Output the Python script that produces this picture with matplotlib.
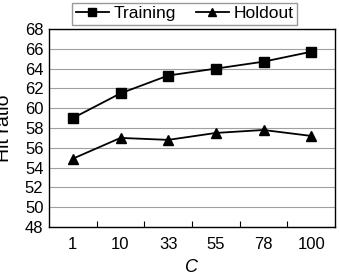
import numpy as np
import matplotlib.pyplot as plt

# data
c_labels = ['1', '10', '33', '55', '78', '100']
training = [59.0, 61.5, 63.3, 64.0, 64.7, 65.7]
holdout = [54.9, 57.0, 56.8, 57.5, 57.8, 57.2]

plt.rcParams['font.family'] = ['Liberation Sans', 'DejaVu Sans']

fig = plt.figure(figsize=(3.39, 2.77), dpi=100)
ax = fig.add_axes([49 / 339, 1 - 227 / 277, 286 / 339, 198 / 277])

x = np.arange(len(c_labels))
ax.plot(x, training, color='black', lw=1.3, marker='s', ms=6.5, label='Training')
ax.plot(x, holdout, color='black', lw=1.3, marker='^', ms=7, label='Holdout')

ax.set_xlim(-0.5, len(c_labels) - 0.5)
ax.set_ylim(48, 68)
ax.set_yticks(np.arange(48, 69, 2))
ax.set_xticks(x)
ax.set_xticklabels(c_labels)
ax.set_xticks(np.arange(0.5, len(c_labels) - 0.5, 1), minor=True)
ax.tick_params(axis='x', which='major', length=0, pad=7, labelsize=12)
ax.tick_params(axis='x', which='minor', direction='in', length=4, width=0.8)
ax.tick_params(axis='y', length=0, pad=4, labelsize=12)
ax.grid(axis='y', color='#a0a0a0', lw=0.8)
ax.set_axisbelow(True)
for s in ax.spines.values():
    s.set_linewidth(1.0)

ax.set_xlabel('C', fontstyle='italic', fontsize=13)
ax.xaxis.set_label_coords(0.5, -0.16)
ax.set_ylabel('Hit ratio', fontsize=14)
ax.yaxis.set_label_coords(-0.125, 0.5)

ax.legend(loc='lower center', bbox_to_anchor=(0.475, 1.0), ncol=2, frameon=True,
          fancybox=False, edgecolor='#808080', fontsize=12.5, borderpad=0.2,
          handlelength=1.9, handletextpad=0.3, columnspacing=1.1,
          borderaxespad=0.25, markerscale=0.8)

fig.savefig('out.png', dpi=100)
